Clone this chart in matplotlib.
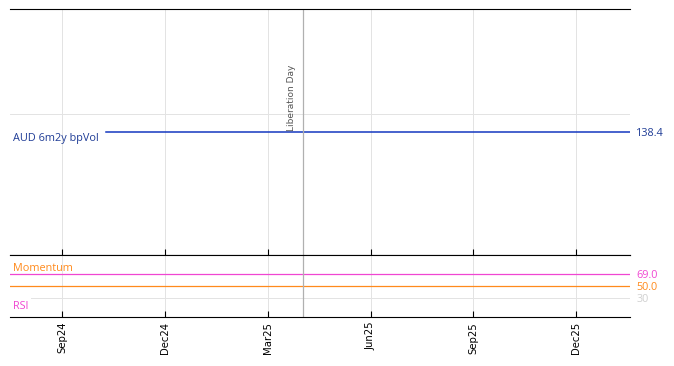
import numpy as np
import pandas as pd
import matplotlib
matplotlib.use("Agg")
import matplotlib.pyplot as plt

# data
vol_dates = ["2024-10-10", "2026-01-16"]
vol_values = [138.4, 138.4]
osc_dates = ["2024-07-17", "2026-01-16"]
rsi_values = [69.0, 69.0]
mom_values = [50.0, 50.0]
event_date = "2025-04-02"
event_label = "Liberation Day"
tick_dates = ["2024-09-02", "2024-12-02", "2025-03-03",
              "2025-06-02", "2025-09-01", "2025-12-01"]
tick_labels = ["Sep24", "Dec24", "Mar25", "Jun25", "Sep25", "Dec25"]

origin = "2024-01-01"


def bd(dates):
    # business-day index on the x axis
    return np.busday_count(origin, np.array(dates, dtype="datetime64[D]"))


blue = "#1538c0"
magenta = "#f046d2"
orange = "#ff8a1c"
grid_c = "#e3e3e3"
label_font = ["Open Sans", "DejaVu Sans"]
fs = 7.8

fig = plt.figure(figsize=(6.74, 3.66), dpi=100)
ax = fig.add_axes([0.0148, 0.3033, 0.92, 0.6721])
ax2 = fig.add_axes([0.0148, 0.1339, 0.92, 0.1694], sharex=ax)

xmin, xmax = bd(osc_dates)
ev = bd([event_date])[0]

# top panel
ax.plot(bd(vol_dates), vol_values, color=blue, lw=1.1)
ax.set_ylim(vol_values[-1] * 0.92, vol_values[-1] * 1.08)
ax.set_yticks([140])
ax.axvline(ev, color="#b0b0b0", lw=0.9)
ax.annotate(event_label, xy=(ev, vol_values[-1]), xytext=(-8, 1),
            textcoords="offset points", rotation=90, ha="center", va="bottom",
            fontsize=6.5, color="#555555")
ty = ax.get_yaxis_transform()
ax.annotate("AUD 6m2y bpVol", xy=(0.005, vol_values[-1]), xycoords=ty,
            xytext=(0, -4.5), textcoords="offset points", ha="left", va="center",
            fontsize=fs, color="#1f3c96", family=label_font)
ax.text(1.01, vol_values[-1], f"{vol_values[-1]:.1f}", transform=ty,
        ha="left", va="center_baseline", fontsize=fs, color="#1f3c96", family=label_font)

# bottom panel
ax2.plot(bd(osc_dates), rsi_values, color=magenta, lw=0.9)
ax2.plot(bd(osc_dates), mom_values, color=orange, lw=0.9)
ax2.set_ylim(0, 100)
ax2.set_yticks([30, 70])
ax2.axvline(ev, color="#b0b0b0", lw=0.9)
ax2.text(0.005, 0.79, "Momentum", transform=ax2.transAxes, ha="left", va="center",
         fontsize=fs, color=orange, family=label_font)
ax2.text(0.005, 0.17, "RSI", transform=ax2.transAxes, ha="left", va="center",
         fontsize=fs, color=magenta, family=label_font, zorder=5,
         bbox=dict(facecolor="white", edgecolor="none", pad=2))
ty2 = ax2.get_yaxis_transform()
ax2.text(1.01, rsi_values[-1], f"{rsi_values[-1]:.1f}", transform=ty2, ha="left",
         va="center_baseline", fontsize=fs, color=magenta, family=label_font)
ax2.text(1.01, mom_values[-1], f"{mom_values[-1]:.1f}", transform=ty2, ha="left",
         va="center_baseline", fontsize=fs, color=orange, family=label_font)
ax2.text(1.01, 30, "30", transform=ty2, ha="left", va="center_baseline",
         fontsize=fs, color="#d0d0d0", family=label_font)

for a in (ax, ax2):
    a.set_xlim(xmin, xmax)
    a.set_xticks(bd(tick_dates))
    a.grid(True, color=grid_c, lw=0.7)
    a.set_axisbelow(True)
    for s in ("left", "right"):
        a.spines[s].set_visible(False)
    a.tick_params(axis="y", left=False, labelleft=False)
    a.tick_params(axis="x", direction="in", length=4, width=0.8)

ax.tick_params(axis="x", labelbottom=False)
ax2.set_xticklabels(tick_labels, rotation=90, fontsize=7.3)

fig.savefig("out.png", dpi=100)
